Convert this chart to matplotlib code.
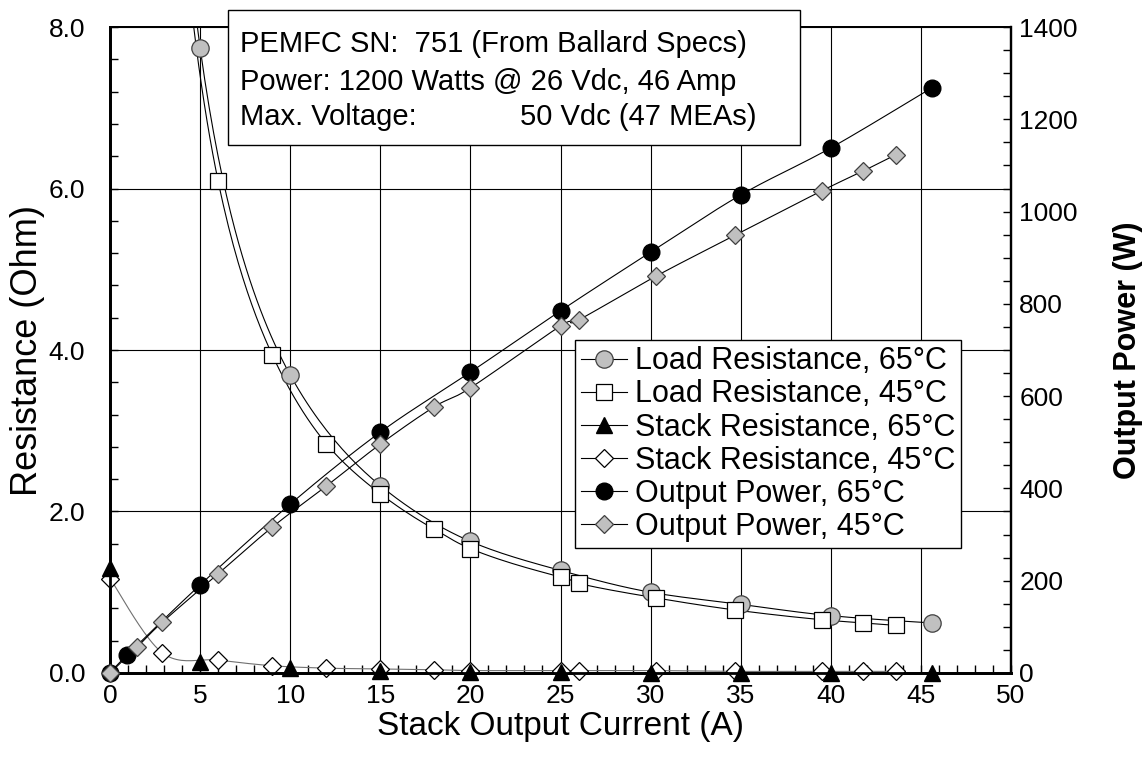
import numpy as np
import matplotlib
matplotlib.use('Agg')
import matplotlib.pyplot as plt
from matplotlib.ticker import MultipleLocator, FormatStrFormatter
from matplotlib.lines import Line2D
from matplotlib.patches import Rectangle

plt.rcParams['font.family'] = ['Liberation Sans', 'DejaVu Sans']

# ---- data (current in A) ----
load65_i = [0.95, 5, 10, 15, 20, 25, 30, 35, 40, 45.6]
load65_r = [43.0, 7.74, 3.69, 2.32, 1.63, 1.27, 1.00, 0.85, 0.71, 0.62]
load45_i = [1.5, 2.9, 6, 9, 12, 15, 18, 20, 25, 26, 30.3, 34.7, 39.5, 41.8, 43.6]
load45_r = [25.0, 13.1, 6.09, 3.94, 2.84, 2.22, 1.78, 1.54, 1.19, 1.11, 0.93, 0.78, 0.66, 0.62, 0.59]
stack65_i = [0, 5, 10, 15, 20, 25, 30, 35, 40, 45.6]
stack65_r = [1.30, 0.14, 0.06, 0.02, 0.01, 0.01, 0.0, 0.0, 0.0, 0.0]
stack45_i = [0, 2.9, 6, 9, 12, 15, 18, 20, 25, 26, 30.3, 34.7, 39.5, 41.8, 43.6]
stack45_r = [1.17, 0.25, 0.16, 0.09, 0.06, 0.05, 0.04, 0.03, 0.03, 0.03, 0.03, 0.02, 0.02, 0.02, 0.02]
power65_i = [0, 0.95, 5, 10, 15, 20, 25, 30, 35, 40, 45.6]
power65_w = [0, 39, 191, 366, 522, 652, 785, 912, 1036, 1138, 1268]
power45_i = [0, 1.5, 2.9, 6, 9, 12, 15, 18, 20, 25, 26, 30.3, 34.7, 39.5, 41.8, 43.6]
power45_w = [0, 56, 110, 215, 316, 405, 496, 577, 618, 752, 765, 860, 949, 1045, 1088, 1123]

labels = ['Load Resistance, 65°C', 'Load Resistance, 45°C',
          'Stack Resistance, 65°C', 'Stack Resistance, 45°C',
          'Output Power, 65°C', 'Output Power, 45°C']
info_lines = ['PEMFC SN:  751 (From Ballard Specs)',
              'Power: 1200 Watts @ 26 Vdc, 46 Amp',
              'Max. Voltage:', '50 Vdc (47 MEAs)']


def smooth_path(xs, ys, loglog=False, n=24):
    """Catmull-Rom style smoothed line through the data points (line style only)."""
    x = np.asarray(xs, float)
    y = np.asarray(ys, float)
    if loglog:
        x, y = np.log(x), np.log(y)
    P = np.column_stack([x, y])
    ext = np.vstack([P[0], P, P[-1]])
    out = []
    t = np.linspace(0, 1, n)[:, None]
    for k in range(1, len(ext) - 2):
        p0, p1, p2, p3 = ext[k - 1], ext[k], ext[k + 1], ext[k + 2]
        c1 = p1 + (p2 - p0) / 6.0
        c2 = p2 - (p3 - p1) / 6.0
        seg = ((1 - t) ** 3) * p1 + 3 * ((1 - t) ** 2) * t * c1 + 3 * (1 - t) * t ** 2 * c2 + t ** 3 * p2
        out.append(seg if k == 1 else seg[1:])
    out = np.vstack(out)
    if loglog:
        out = np.exp(out)
    return out[:, 0], out[:, 1]


fig = plt.figure(figsize=(11.44, 7.74), dpi=100)
fig.subplots_adjust(left=0.0962, right=0.8837, bottom=0.1305, top=0.9651)
ax = fig.add_subplot(111)
ax2 = ax.twinx()

LW = 0.8
gray = '#c0c0c0'
edge_gray = '#404040'

# smoothed connecting lines
ax.plot(*smooth_path(load65_i, load65_r, loglog=True), color='black', lw=LW, zorder=3)
ax.plot(*smooth_path(load45_i, load45_r, loglog=True), color='black', lw=LW, zorder=3)
ax.plot(*smooth_path(stack45_i, stack45_r), color='#707070', lw=LW, zorder=3)
ax2.plot(*smooth_path(power65_i, power65_w), color='black', lw=LW, zorder=2)
ax2.plot(*smooth_path(power45_i, power45_w), color='black', lw=LW, zorder=2)

# markers
ax.plot(load65_i, load65_r, ls='none', marker='o', ms=12.5,
        mfc=gray, mec=edge_gray, mew=0.9, zorder=4)
ax.plot(load45_i, load45_r, ls='none', marker='s', ms=12,
        mfc='white', mec='black', mew=0.9, zorder=5)
ax.plot(stack45_i, stack45_r, ls='none', marker='D', ms=9,
        mfc='white', mec='black', mew=0.9, zorder=6, clip_on=False)
ax.plot(stack65_i, stack65_r, ls='none', marker='^', ms=12,
        mfc='black', mec='black', zorder=7, clip_on=False)
ax2.plot(power65_i, power65_w, ls='none', marker='o', ms=12,
         mfc='black', mec='black', zorder=3, clip_on=False)
ax2.plot(power45_i, power45_w, ls='none', marker='D', ms=9.5,
         mfc=gray, mec=edge_gray, mew=0.9, zorder=4, clip_on=False)

# legend proxies
h1 = Line2D([], [], color='black', lw=LW, marker='o', ms=12.5, mfc=gray, mec=edge_gray, mew=0.9)
h2 = Line2D([], [], color='black', lw=LW, marker='s', ms=12, mfc='white', mec='black', mew=0.9)
h3 = Line2D([], [], color='black', lw=LW, marker='^', ms=12, mfc='black', mec='black')
h4 = Line2D([], [], color='black', lw=LW, marker='D', ms=9, mfc='white', mec='black', mew=0.9)
h5 = Line2D([], [], color='black', lw=LW, marker='o', ms=12, mfc='black', mec='black')
h6 = Line2D([], [], color='black', lw=LW, marker='D', ms=9.5, mfc=gray, mec=edge_gray, mew=0.9)

ax.set_xlim(0, 50)
ax.set_ylim(0, 8)
ax2.set_ylim(0, 1400)

ax.xaxis.set_major_locator(MultipleLocator(5))
ax.xaxis.set_minor_locator(MultipleLocator(1))
ax.yaxis.set_major_locator(MultipleLocator(2))
ax.yaxis.set_minor_locator(MultipleLocator(0.4))
ax.yaxis.set_major_formatter(FormatStrFormatter('%.1f'))
ax2.yaxis.set_major_locator(MultipleLocator(200))
ax2.yaxis.set_minor_locator(MultipleLocator(50))

ax.grid(which='major', color='black', lw=0.8)
ax.set_axisbelow(True)

TS = 19
ax.tick_params(axis='x', which='both', direction='in', top=False, labelsize=TS, pad=8)
ax.tick_params(axis='x', which='both', length=6, width=1)
ax.tick_params(axis='y', which='both', direction='in', right=False, labelsize=TS, pad=18)
ax.tick_params(axis='y', which='both', length=6, width=1)
ax2.tick_params(axis='y', which='both', direction='in', labelsize=TS, pad=6)
ax2.tick_params(axis='y', which='both', length=6, width=1)

for a in (ax, ax2):
    a.spines['left'].set_linewidth(2.0)
    a.spines['bottom'].set_linewidth(2.0)
    a.spines['right'].set_linewidth(1.6)
    a.spines['top'].set_linewidth(1.4)

ax.set_xlabel('Stack Output Current (A)', fontsize=24, labelpad=2)
ax.set_ylabel('Resistance (Ohm)', fontsize=26)
ax.yaxis.set_label_coords(-0.072, 0.5)
ax2.set_ylabel('Output Power (W)', fontsize=22, fontweight='bold')
ax2.yaxis.set_label_coords(1.113, 0.5)

leg = ax2.legend([h1, h2, h3, h4, h5, h6], labels, loc='upper left',
                 bbox_to_anchor=(0.516, 0.515), fontsize=22, frameon=True,
                 fancybox=False, edgecolor='black', framealpha=1,
                 handlelength=1.5, handletextpad=0.25, labelspacing=0.1,
                 borderpad=0.2, borderaxespad=0)
leg.get_frame().set_linewidth(1.0)
leg.set_zorder(20)

# info box
W, H = 1144.0, 774.0
rect = Rectangle((228 / W, 1 - 145 / H), 572 / W, 135 / H, transform=fig.transFigure,
                 facecolor='white', edgecolor='black', lw=1.0, zorder=10)
fig.add_artist(rect)
fig.text(240 / W, 1 - 44 / H, info_lines[0], fontsize=21, va='center', ha='left', zorder=11)
fig.text(240 / W, 1 - 82 / H, info_lines[1], fontsize=21, va='center', ha='left', zorder=11)
fig.text(240 / W, 1 - 117 / H, info_lines[2], fontsize=21, va='center', ha='left', zorder=11)
fig.text(757 / W, 1 - 117 / H, info_lines[3], fontsize=21, va='center', ha='right', zorder=11)

fig.savefig('out.png', dpi=100)
